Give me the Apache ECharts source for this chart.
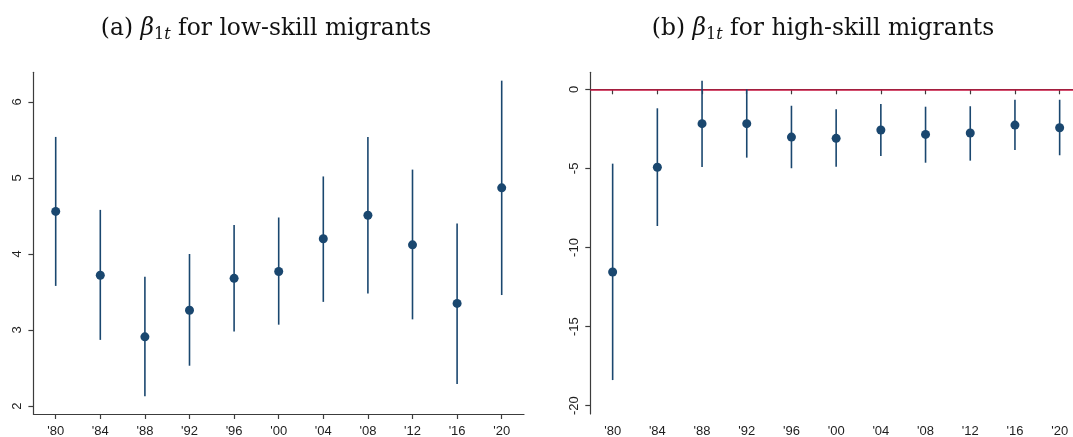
<!DOCTYPE html>
<html>
<head>
<meta charset="utf-8">
<script src="https://cdn.jsdelivr.net/npm/echarts@6/dist/echarts.min.js"></script>
<style>
  html, body { margin: 0; padding: 0; background: #fff; }
  #chart { width: 1073px; height: 437px; }
</style>
</head>
<body>
<div id="chart"></div>
<script>
// Survey waves on the horizontal axis
const years = ["'80", "'84", "'88", "'92", "'96", "'00", "'04", "'08", "'12", "'16", "'20"];

// Panel (a): low-skill migrants, point estimates with confidence bounds
const lowEst = [4.56, 3.72, 2.91, 3.26, 3.68, 3.77, 4.20, 4.51, 4.12, 3.35, 4.87];
const lowLo  = [3.58, 2.87, 2.13, 2.53, 2.98, 3.07, 3.37, 3.48, 3.14, 2.29, 3.46];
const lowHi  = [5.54, 4.58, 3.70, 4.00, 4.38, 4.48, 5.02, 5.54, 5.11, 4.40, 6.28];

// Panel (b): high-skill migrants, point estimates with confidence bounds
const highEst = [-11.55, -4.93, -2.17, -2.17, -3.02, -3.10, -2.57, -2.85, -2.76, -2.26, -2.43];
const highLo  = [-18.38, -8.64, -4.91, -4.32, -4.99, -4.89, -4.22, -4.64, -4.51, -3.84, -4.17];
const highHi  = [-4.70, -1.20, 0.54, 0.00, -1.04, -1.26, -0.93, -1.10, -1.07, -0.66, -0.66];

// Tick labels on the vertical axes
const lowTicks = [2, 3, 4, 5, 6];
const highTicks = [-20, -15, -10, -5, 0];

const NAVY = '#1a476f';
const AXIS = '#3c3c3c';
const LABEL_FONT = 'Liberation Sans';
const TITLE_FONT = 'DejaVu Serif';

function errorBar(params, api) {
  const lo = api.coord([api.value(0), api.value(1)]);
  const hi = api.coord([api.value(0), api.value(2)]);
  return {
    type: 'line',
    shape: { x1: lo[0], y1: lo[1], x2: hi[0], y2: hi[1] },
    style: { stroke: NAVY, lineWidth: 1.6 }
  };
}

function xAxisFor(gridIndex) {
  return {
    type: 'category',
    gridIndex: gridIndex,
    data: years,
    boundaryGap: true,
    axisLine: { show: true, lineStyle: { color: AXIS, width: 1.2 } },
    axisTick: { show: true, alignWithLabel: true, length: 5, lineStyle: { color: AXIS, width: 1.2 } },
    axisLabel: { color: '#1e1e1e', fontFamily: LABEL_FONT, fontSize: 13, margin: 11 },
    splitLine: { show: false }
  };
}

function yAxisFor(gridIndex, min, max, ticks) {
  return {
    type: 'value',
    gridIndex: gridIndex,
    min: min,
    max: max,
    axisLine: { show: true, lineStyle: { color: AXIS, width: 1.2 } },
    axisTick: { show: true, length: 5, customValues: ticks, lineStyle: { color: AXIS, width: 1.2 } },
    axisLabel: { customValues: ticks, rotate: 90, color: '#1e1e1e', fontFamily: LABEL_FONT, fontSize: 13, margin: 9 },
    splitLine: { show: false }
  };
}

function titleText(x, letter) {
  return {
    type: 'text',
    x: x,
    y: 29,
    style: {
      text: '{n|(' + letter + ') }{i|β}{s|1}{si|t}{n| for ' + (letter === 'a' ? 'low' : 'high') + '-skill migrants}',
      align: 'center',
      verticalAlign: 'middle',
      fill: '#111',
      rich: {
        n: { fontFamily: TITLE_FONT, fontSize: 23.4, lineHeight: 28, fill: '#111' },
        i: { fontFamily: TITLE_FONT, fontSize: 23.4, fontStyle: 'italic', lineHeight: 28, fill: '#111' },
        s: { fontFamily: TITLE_FONT, fontSize: 16, lineHeight: 16, verticalAlign: 'bottom', fill: '#111' },
        si: { fontFamily: TITLE_FONT, fontSize: 16, fontStyle: 'italic', lineHeight: 16, verticalAlign: 'bottom', fill: '#111' }
      }
    }
  };
}

const chart = echarts.init(document.getElementById('chart'), null, { renderer: 'canvas' });

chart.setOption({
  animation: false,
  backgroundColor: '#fff',
  grid: [
    { left: 33.4, top: 72.3, width: 490.6, height: 341.7, outerBoundsMode: 'none', containLabel: false },
    { left: 590.3, top: 72.3, width: 491.7, height: 341.7, outerBoundsMode: 'none', containLabel: false }
  ],
  xAxis: [xAxisFor(0), xAxisFor(1)],
  yAxis: [
    yAxisFor(0, 1.895, 6.39, lowTicks),
    yAxisFor(1, -20.525, 1.075, highTicks)
  ],
  graphic: [titleText(266, 'a'), titleText(823, 'b')],
  series: [
    {
      type: 'custom',
      xAxisIndex: 0, yAxisIndex: 0,
      renderItem: errorBar,
      encode: { x: 0, y: [1, 2] },
      data: years.map((y, i) => [i, lowLo[i], lowHi[i]]),
      z: 2
    },
    {
      type: 'scatter',
      xAxisIndex: 0, yAxisIndex: 0,
      symbol: 'circle',
      symbolSize: 9,
      itemStyle: { color: NAVY, opacity: 1 },
      data: years.map((y, i) => [i, lowEst[i]]),
      z: 3
    },
    {
      type: 'custom',
      xAxisIndex: 1, yAxisIndex: 1,
      renderItem: errorBar,
      encode: { x: 0, y: [1, 2] },
      data: years.map((y, i) => [i, highLo[i], highHi[i]]),
      z: 2,
      markLine: {
        silent: true,
        symbol: 'none',
        label: { show: false },
        lineStyle: { color: '#c4153f', width: 1.6, type: 'solid' },
        data: [{ yAxis: 0 }],
        z: 1
      }
    },
    {
      type: 'scatter',
      xAxisIndex: 1, yAxisIndex: 1,
      symbol: 'circle',
      symbolSize: 9,
      itemStyle: { color: NAVY, opacity: 1 },
      data: years.map((y, i) => [i, highEst[i]]),
      z: 3
    }
  ]
});
</script>
</body>
</html>
